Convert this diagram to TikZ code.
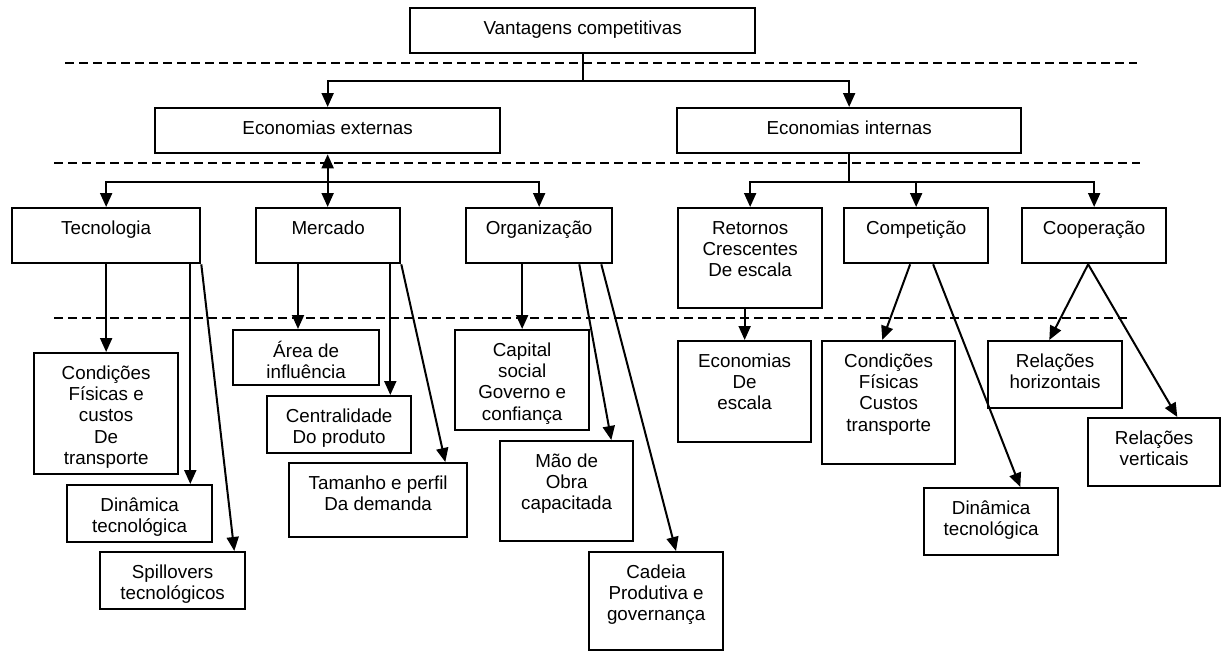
\documentclass[tikz,border=0pt]{standalone}
\usepackage{fontspec}
\setmainfont{Liberation Sans}
\usetikzlibrary{arrows.meta,calc}
% box with top-aligned, centred text: name, x1, y1, x2, y2, text
\newcommand\boxat[6]{%
  \node[box, minimum width={#4-#2}, minimum height={#5-#3}] (#1) at (#2,#3) {};
  \node[txt] (#1-t) at ($(#1.north)+(0,12)$) {\strut #6};}
\begin{document}
\begin{tikzpicture}[x=1pt,y=-1pt,
  box/.style={draw, line width=2.3pt, rectangle, inner sep=0pt, anchor=north west},
  txt/.style={anchor=north, inner sep=0pt, align=center, font=\fontsize{18.8}{21.3}\selectfont},
  arr/.style={line width=2pt, -{Triangle[length=14pt,width=12pt]}},
  wire/.style={line width=2pt},
  sep/.style={line width=2pt, dash pattern=on 9pt off 5pt}]
\useasboundingbox (0,0) rectangle (1221,651);

% level separators
\draw[sep] (65,63) -- (1137,63);
\draw[sep] (54,163) -- (1140,163);
\draw[sep] (54,318) -- (1127,318);

% boxes
\boxat{van}{409}{7}{754}{52}{Vantagens competitivas}
\boxat{ext}{154}{107}{499}{152}{Economias externas}
\boxat{int}{676}{107}{1020}{152}{Economias internas}
\boxat{tec}{11}{207}{199}{262}{Tecnologia}
\boxat{mer}{255}{207}{399}{262}{Mercado}
\boxat{org}{465}{207}{611}{262}{Organização}
\boxat{ret}{677}{207}{821}{307}{Retornos\\Crescentes\\De escala}
\boxat{comp}{843}{207}{987}{262}{Competição}
\boxat{coop}{1021}{207}{1165}{262}{Cooperação}
\boxat{cond1}{33}{352}{177}{473}{Condições\\Físicas e\\custos\\De\\transporte}
\boxat{din1}{66}{484}{211}{541}{Dinâmica\\tecnológica}
\boxat{spill}{99}{551}{244}{608}{Spillovers\\tecnológicos}
\boxat{area}{232}{329}{378}{384}{Área de\\influência}
\boxat{cent}{266}{395}{410}{452}{Centralidade\\Do produto}
\boxat{tam}{288}{462}{466}{536}{Tamanho e perfil\\Da demanda}
\boxat{cap}{454}{329}{588}{429}{Capital\\social\\Governo e\\confiança}
\boxat{mao}{499}{440}{632}{540}{Mão de\\Obra\\capacitada}
\boxat{cad}{588}{551}{722}{649}{Cadeia\\Produtiva e\\governança}
\boxat{ecoesc}{677}{340}{810}{441}{Economias\\De\\escala}
\boxat{cond2}{821}{340}{954}{463}{Condições\\Físicas\\Custos\\transporte}
\boxat{din2}{923}{487}{1057}{554}{Dinâmica\\tecnológica}
\boxat{relh}{987}{340}{1121}{407}{Relações\\horizontais}
\boxat{relv}{1087}{417}{1219}{485}{Relações\\verticais}

% top level
\coordinate (j1) at ($(van.south)+(0,27)$);
\draw[wire] (van.south) -- (j1);
\draw[arr] (j1) -| (ext.north);
\draw[arr] (j1) -| (int.north);

% external economies
\coordinate (j2) at ($(ext.south)+(0,28)$);
\draw[arr] (j2) -- (ext.south);
\draw[arr] (j2) -| (tec.north);
\draw[arr] (j2) -- (j2 |- mer.north);
\draw[arr] (j2) -| (org.north);

% internal economies
\coordinate (j3) at ($(int.south)+(0,28)$);
\draw[wire] (int.south) -- (j3);
\draw[arr] (j3) -| (ret.north);
\draw[arr] (j3) -| (comp.north);
\draw[arr] (j3) -| (coop.north);

% Tecnologia
\draw[arr] (tec.south) -- (cond1.north);
\coordinate (t2) at ($(tec.south east)+(-11,0)$);
\draw[arr] (t2) -- (t2 |- din1.north);
\draw[arr] (tec.south east) -- ($(spill.north east)+(-12,0)$);

% Mercado
\coordinate (m1) at ($(mer.south west)+(43,0)$);
\draw[arr] (m1) -- (m1 |- area.north);
\coordinate (m2) at ($(mer.south east)+(-11,0)$);
\draw[arr] (m2) -- (m2 |- cent.north);
\draw[arr] (mer.south east) -- ($(tam.north east)+(-23,0)$);

% Organizacao
\draw[arr] (cap.north |- org.south) -- (cap.north);
\coordinate (o2) at ($(org.south east)+(-34,0)$);
\draw[arr] (o2) -- ($(mao.north east)+(-23,0)$);
\coordinate (o3) at ($(org.south east)+(-12,0)$);
\draw[arr] (o3) -- ($(cad.north west)+(88,0)$);

% Retornos
\draw[arr] (ecoesc.north |- ret.south) -- (ecoesc.north);

% Competicao
\coordinate (c1) at ($(comp.south)+(-6,0)$);
\draw[arr] (c1) -- ($(cond2.north east)+(-74,0)$);
\coordinate (c2) at ($(comp.south)+(17,0)$);
\draw[arr] (c2) -- ($(din2.north east)+(-39,0)$);

% Cooperacao
\coordinate (k1) at ($(coop.south)+(-6,0)$);
\draw[arr] (k1) -- ($(relh.north east)+(-74,0)$);
\draw[arr] (k1) -- ($(relv.north east)+(-44,0)$);
\end{tikzpicture}
\end{document}
